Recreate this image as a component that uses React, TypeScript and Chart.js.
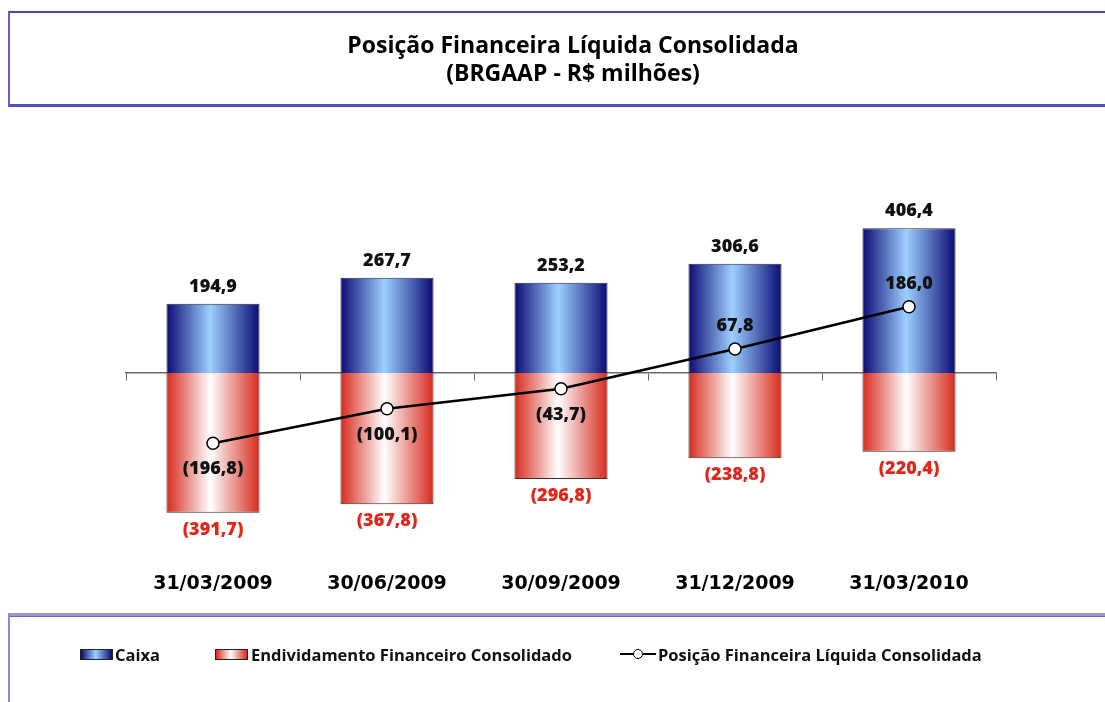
import React, { useEffect, useRef } from 'react';
import { Chart, registerables } from 'chart.js';

Chart.register(...registerables);

const categories = ['31/03/2009', '30/06/2009', '30/09/2009', '31/12/2009', '31/03/2010'];
const caixa = [194.9, 267.7, 253.2, 306.6, 406.4];
const endividamento = [-391.7, -367.8, -296.8, -238.8, -220.4];
const posicaoLiquida = [-196.8, -100.1, -43.7, 67.8, 186.0];
const seriesNames = ['Caixa', 'Endividamento Financeiro Consolidado', 'Posição Financeira Líquida Consolidada'];
const titleLines = ['Posição Financeira Líquida Consolidada', '(BRGAAP - R$ milhões)'];
const yMin = -480;
const yMax = 480;

const BAR_PCT = 0.535;
const BLUE_EDGE = '#0b0b73';
const BLUE_MID = '#9dcfff';
const RED_EDGE = '#d62a1c';
const RED_MID = '#ffffff';

const fmt = (v: number) => {
  const s = Math.abs(v).toFixed(1).replace('.', ',');
  return v < 0 ? `(${s})` : s;
};

function barGradient(c: any, edge: string, mid: string) {
  const chart = c.chart;
  const xs = chart.scales && chart.scales.x;
  if (!xs || c.dataIndex === undefined || !chart.chartArea) return mid;
  const cx = xs.getPixelForValue(c.dataIndex);
  const w = ((xs.right - xs.left) / categories.length) * BAR_PCT;
  const g = chart.ctx.createLinearGradient(cx - w / 2, 0, cx + w / 2, 0);
  g.addColorStop(0, edge);
  g.addColorStop(0.47, mid);
  g.addColorStop(1, edge);
  return g;
}

const valueLabels = {
  id: 'valueLabels',
  afterDatasetsDraw(chart: any) {
    const ctx = chart.ctx;
    ctx.save();
    ctx.font = '800 18px "Open Sans"';
    ctx.textAlign = 'center';
    ctx.textBaseline = 'middle';
    chart.data.datasets.forEach((ds: any, di: number) => {
      const meta = chart.getDatasetMeta(di);
      meta.data.forEach((el: any, i: number) => {
        const v = ds.data[i] as number;
        let y: number;
        let color = '#111111';
        if (di === 0) {
          y = el.y - 17;
        } else if (di === 1) {
          y = el.y + 17;
          color = '#e0281a';
        } else {
          y = v < 0 ? el.y + 26 : el.y - 23;
        }
        ctx.fillStyle = color;
        ctx.fillText(fmt(v), el.x, y);
      });
    });
    ctx.restore();
  },
};

export default function App() {
  const ref = useRef<HTMLCanvasElement>(null);

  useEffect(() => {
    if (!ref.current) return;
    const chart = new Chart(ref.current, {
      type: 'bar',
      data: {
        labels: categories,
        datasets: [
          {
            type: 'bar',
            label: seriesNames[0],
            data: caixa,
            order: 1,
            grouped: false,
            categoryPercentage: 1,
            barPercentage: BAR_PCT,
            backgroundColor: (c: any) => barGradient(c, BLUE_EDGE, BLUE_MID),
            borderColor: '#2a2a3a',
            borderWidth: 1,
          } as any,
          {
            type: 'bar',
            label: seriesNames[1],
            data: endividamento,
            order: 1,
            grouped: false,
            categoryPercentage: 1,
            barPercentage: BAR_PCT,
            backgroundColor: (c: any) => barGradient(c, RED_EDGE, RED_MID),
            borderColor: '#3a2a2a',
            borderWidth: 1,
          } as any,
          {
            type: 'line',
            label: seriesNames[2],
            data: posicaoLiquida,
            order: 0,
            borderColor: '#000000',
            borderWidth: 2.5,
            tension: 0,
            pointRadius: 6,
            pointBackgroundColor: '#ffffff',
            pointBorderColor: '#000000',
            pointBorderWidth: 1.5,
          } as any,
        ],
      },
      options: {
        responsive: false,
        animation: false,
        layout: { padding: { left: 126, right: 109, top: 202, bottom: 79 } },
        plugins: {
          legend: { display: false },
          tooltip: { enabled: false },
          title: { display: false },
        },
        scales: {
          x: {
            type: 'category',
            position: 'bottom',
            offset: true,
            grid: { display: false, drawTicks: false },
            border: { display: false },
            ticks: {
              color: '#000000',
              padding: 28,
              font: { family: '"DejaVu Sans"', size: 19, weight: 'bold' },
            },
          },
          x2: {
            type: 'category',
            position: { y: 0 },
            offset: true,
            grid: {
              display: true,
              offset: true,
              drawOnChartArea: false,
              drawTicks: true,
              tickLength: 7,
              color: '#6a6a6a',
              lineWidth: 1,
            },
            border: { display: true, color: '#6a6a6a', width: 1.5 },
            ticks: { display: false },
          },
          y: {
            display: false,
            min: yMin,
            max: yMax,
          },
        } as any,
      },
      plugins: [valueLabels],
    });
    return () => chart.destroy();
  }, []);

  const legendFont = { fontFamily: '"Open Sans", sans-serif', fontWeight: 700, fontSize: 16.5, color: '#111', whiteSpace: 'nowrap' as const };

  return (
    <div style={{ position: 'fixed', left: 0, top: 0, width: 1105, height: 702, overflow: 'hidden', background: '#ffffff' }}>
      <canvas ref={ref} width={1105} height={702} style={{ position: 'absolute', left: 0, top: 0, width: 1105, height: 702 }} />
      <div
        style={{
          position: 'absolute', left: 8, top: 11, width: 1200, height: 91,
          borderTop: '2px solid #4848b4', borderLeft: '2px solid #6464b8', borderBottom: '3px solid #5050b8',
        }}
      />
      <div
        style={{
          position: 'absolute', left: 0, top: 30, width: 1146, textAlign: 'center',
          fontFamily: '"Open Sans", sans-serif', fontWeight: 700, fontSize: 23, lineHeight: '28px', color: '#000',
        }}
      >
        <div>{titleLines[0]}</div>
        <div>{titleLines[1]}</div>
      </div>
      <div
        style={{
          position: 'absolute', left: 8, top: 613, width: 1200, height: 120,
          borderTop: '3px solid #9898d6', borderLeft: '2px solid #8a8acc',
          boxShadow: 'inset 0 1px 0 #6a6ab0',
        }}
      />
      <div style={{ position: 'absolute', left: 80, top: 645, height: 18, display: 'flex', alignItems: 'center', ...legendFont }}>
        <span style={{ display: 'inline-block', width: 31, height: 9, border: '1px solid #222', background: `linear-gradient(to right, ${BLUE_EDGE}, ${BLUE_MID} 47%, ${BLUE_EDGE})`, marginRight: 2 }} />
        <span>{seriesNames[0]}</span>
      </div>
      <div style={{ position: 'absolute', left: 215, top: 645, height: 18, display: 'flex', alignItems: 'center', ...legendFont }}>
        <span style={{ display: 'inline-block', width: 31, height: 9, border: '1px solid #222', background: `linear-gradient(to right, ${RED_EDGE}, ${RED_MID} 47%, ${RED_EDGE})`, marginRight: 3 }} />
        <span>{seriesNames[1]}</span>
      </div>
      <div style={{ position: 'absolute', left: 620, top: 645, height: 18, display: 'flex', alignItems: 'center', ...legendFont }}>
        <span style={{ position: 'relative', display: 'inline-block', width: 36, height: 18, marginRight: 2 }}>
          <span style={{ position: 'absolute', left: 0, top: 8, width: 36, height: 2, background: '#000' }} />
          <span style={{ position: 'absolute', left: 13, top: 4, width: 8, height: 8, borderRadius: '50%', border: '1.5px solid #000', background: '#fff' }} />
        </span>
        <span>{seriesNames[2]}</span>
      </div>
    </div>
  );
}
